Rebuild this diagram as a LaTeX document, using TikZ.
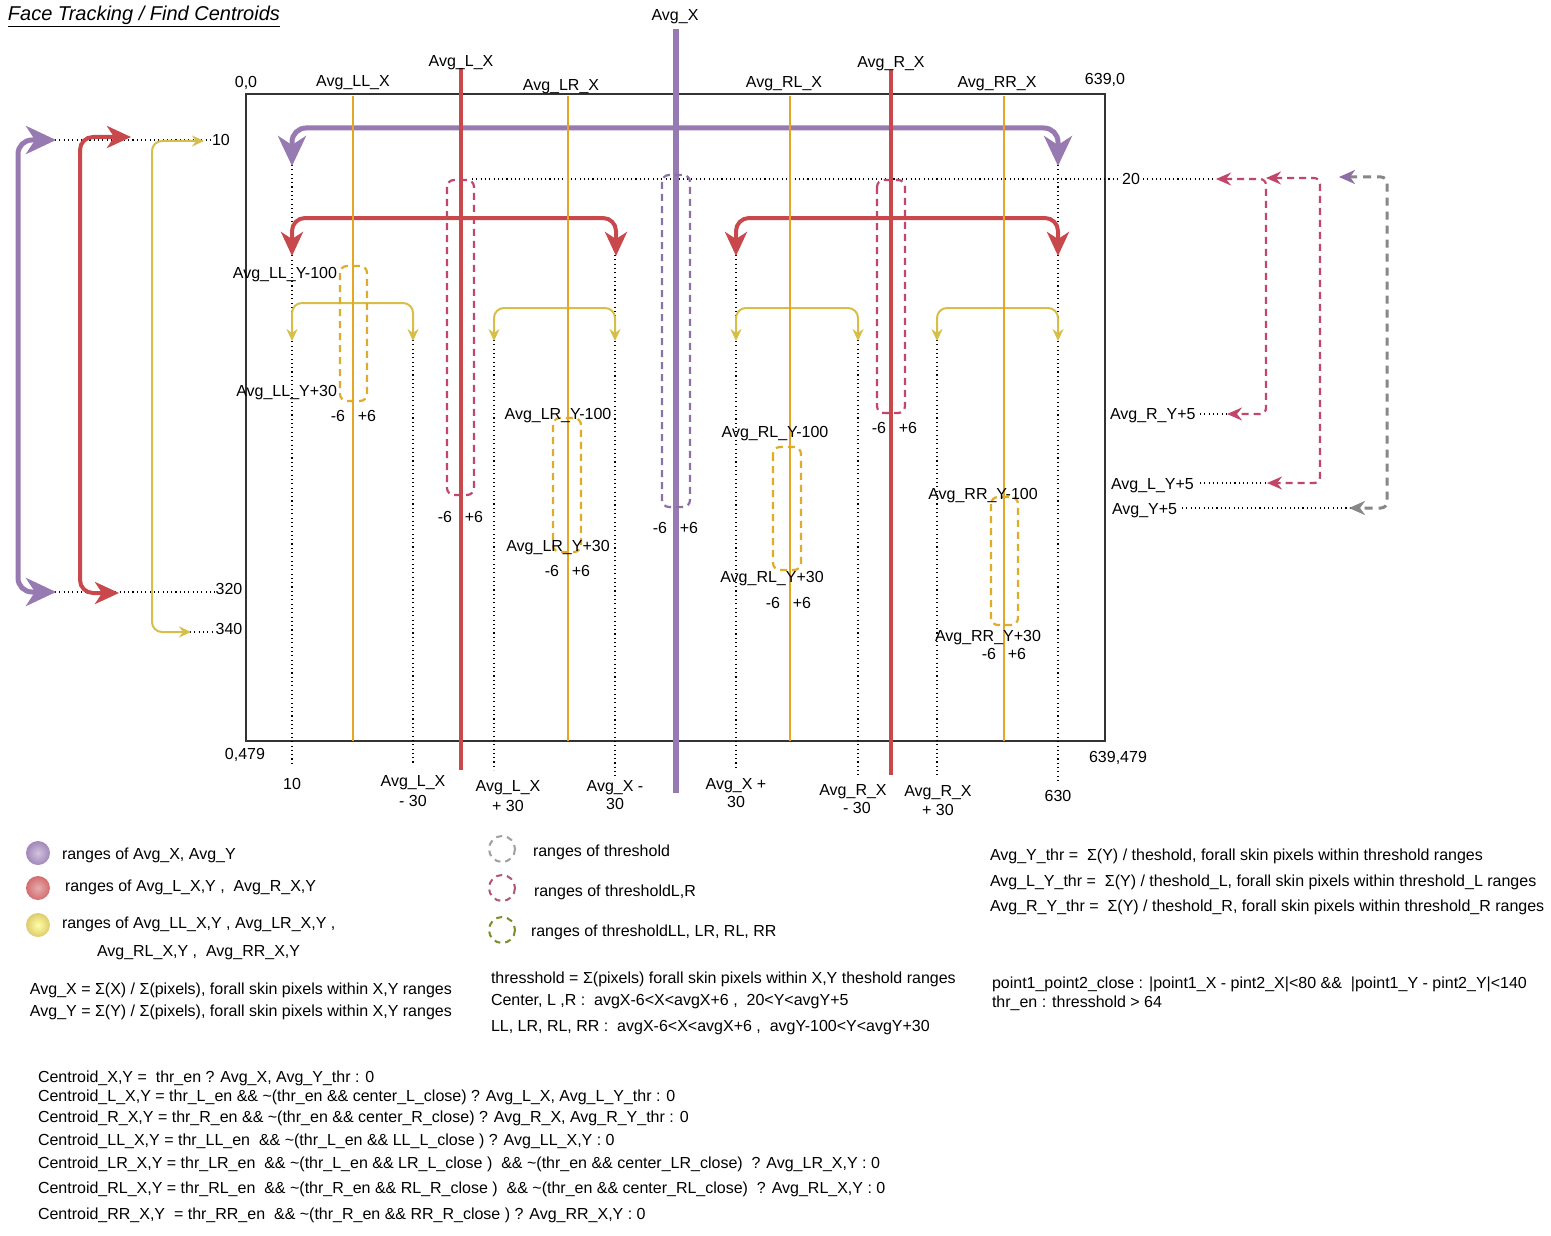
\documentclass[tikz,border=0pt]{standalone}
\usepackage{fontspec}
\setmainfont{Liberation Sans}
\usetikzlibrary{arrows.meta}
\definecolor{cpur}{RGB}{152,122,178}
\definecolor{cred}{RGB}{200,72,76}
\definecolor{cyel}{RGB}{228,166,38}
\definecolor{cyarr}{RGB}{214,190,72}
\definecolor{cdred}{RGB}{194,70,105}
\definecolor{cdpur}{RGB}{140,112,165}
\definecolor{cdyel}{RGB}{222,172,40}
\definecolor{cgray}{RGB}{135,135,135}
\begin{document}
\begin{tikzpicture}[x=1pt,y=-1pt,
  font=\fontsize{16}{19}\selectfont,
  every node/.style={inner sep=0pt,outer sep=0pt},
  tl/.style={anchor=base west},
  tc/.style={anchor=base},
  tr/.style={anchor=base east},
  dotln/.style={black,line width=1.1pt,dash pattern=on 1.1pt off 3.2pt},
  purbr/.style={cpur,line width=5pt,rounded corners=14pt,
    {Stealth[length=30pt,width=28pt,inset=9pt]}-{Stealth[length=30pt,width=28pt,inset=9pt]}},
  redbr/.style={cred,line width=4pt,rounded corners=13pt,
    {Stealth[length=24pt,width=22pt,inset=7pt]}-{Stealth[length=24pt,width=22pt,inset=7pt]}},
  yelbr/.style={cyarr,line width=2pt,rounded corners=10pt,
    {Stealth[length=12pt,width=11pt,inset=4pt]}-{Stealth[length=12pt,width=11pt,inset=4pt]}},
  rdash/.style={cdred,line width=2.2pt,dash pattern=on 7pt off 5pt,rounded corners=6pt,
    {Stealth[length=15pt,width=13pt,inset=5pt]}-{Stealth[length=15pt,width=13pt,inset=5pt]}},
  boxd/.style={line width=2.2pt,dash pattern=on 7pt off 5pt,rounded corners=7pt},
]
\useasboundingbox (0,0) rectangle (1551,1236);
\fill[white] (0,0) rectangle (1551,1236);

% title
\node[tl,font=\fontsize{20}{24}\selectfont\itshape] (title) at (8,21) {\underline{Face Tracking / Find Centroids}};

% frame
\draw[line width=1.3pt,black!80] (246,94) rectangle (1105,741);

% dotted lines
\draw[dotln] (292,165) -- (292,765);
\draw[dotln] (413,340) -- (413,765);
\draw[dotln] (494,340) -- (494,770);
\draw[dotln] (615,255) -- (615,778);
\draw[dotln] (736,255) -- (736,770);
\draw[dotln] (858,340) -- (858,775);
\draw[dotln] (937,340) -- (937,778);
\draw[dotln] (1058,165) -- (1058,780);
\draw[dotln] (55,140) -- (210,140);
\draw[dotln] (55,592) -- (215,592);
\draw[dotln] (190,632) -- (215,632);
\draw[dotln] (472,179) -- (1119,179);
\draw[dotln] (1143,179) -- (1215,179);
\draw[dotln] (1200,414) -- (1228,414);
\draw[dotln] (1200,483) -- (1268,483);
\draw[dotln] (1182,508) -- (1350,508);

% left arrows
\draw[purbr] (56,140) -- (18,140) -- (18,592) -- (56,592);
\draw[redbr] (131,137) -- (80,137) -- (80,593) -- (119,593);
\draw[yelbr] (204,141) -- (152,141) -- (152,632) -- (191,632);

% brackets
\draw[purbr] (292,166) -- (292,128) -- (1058,128) -- (1058,166);
\draw[redbr] (292,256) -- (292,218) -- (616,218) -- (616,256);
\draw[redbr] (736,256) -- (736,218) -- (1058,218) -- (1058,256);
\draw[yelbr] (292,341) -- (292,303) -- (413,303) -- (413,341);
\draw[yelbr] (494,341) -- (494,308) -- (615,308) -- (615,341);
\draw[yelbr] (736,341) -- (736,308) -- (858,308) -- (858,341);
\draw[yelbr] (937,341) -- (937,308) -- (1058,308) -- (1058,341);

% right dashed arrows
\draw[rdash] (1216,179) -- (1266,179) -- (1266,414) -- (1227,414);
\draw[rdash] (1266,178) -- (1320,178) -- (1320,483) -- (1267,483);
\draw[cgray,line width=3pt,dash pattern=on 8pt off 6pt,rounded corners=6pt,
  {Stealth[length=16pt,width=14pt,inset=5pt,color=cdpur]}-{Stealth[length=16pt,width=14pt,inset=5pt]}]
  (1339,177) -- (1387,177) -- (1387,508) -- (1349,508);

% vertical lines
\draw[cyel,line width=2.6pt] (353,96) -- (353,741);
\draw[cyel,line width=2.6pt] (568,96) -- (568,741);
\draw[cyel,line width=2.6pt] (790,96) -- (790,741);
\draw[cyel,line width=2.6pt] (1004,96) -- (1004,741);
\draw[cred,line width=4pt] (461,68) -- (461,770);
\draw[cred,line width=4pt] (891,70) -- (891,775);
\draw[cpur,line width=5.5pt] (676,29) -- (676,793);

% threshold boxes
\draw[boxd,cdred] (447,180) rectangle (474,495);
\draw[boxd,cdpur] (662,175) rectangle (690,507);
\draw[boxd,cdred] (877,180) rectangle (905,413);
\draw[boxd,cdyel] (340,266) rectangle (367,401);
\draw[boxd,cdyel] (553,418) rectangle (581,552);
\draw[boxd,cdyel] (773,447) rectangle (801,570);
\draw[boxd,cdyel] (991,497) rectangle (1018,625);

% top labels
\node[tc] (lx) at (675,21) {Avg\_X};
\node[tc] (llx) at (461,67) {Avg\_L\_X};
\node[tc] (lrx) at (891,68) {Avg\_R\_X};
\node[tc] (lllx) at (353,87) {Avg\_LL\_X};
\node[tc] (llrx) at (561,91) {Avg\_LR\_X};
\node[tc] (lrlx) at (784,88) {Avg\_RL\_X};
\node[tc] (lrrx) at (997,88) {Avg\_RR\_X};
\node[tc] (c00) at (246,88) {0,0};
\node[tc] (c6390) at (1105,85) {639,0};
\node[tc] (c0479) at (245,759) {0,479};
\node[tc] (c639479) at (1118,762) {639,479};
\node[tc] (y10) at (221,146) {10};
\node[tc] (y20) at (1131,185) {20};
\node[tc] (y320) at (229,594) {320};
\node[tc] (y340) at (229,634) {340};

% inner labels
\node[tr] (llym) at (337,278) {Avg\_LL\_Y-100};
\node[tr] (llyp) at (337,396) {Avg\_LL\_Y+30};
\node[tc] (llm6) at (338,421) {-6};
\node[tc] (llp6) at (367,421) {+6};
\node[tc] (lm6) at (445,522) {-6};
\node[tc] (lp6) at (474,522) {+6};
\node[tc] (lrym) at (558,419) {Avg\_LR\_Y-100};
\node[tc] (lryp) at (558,551) {Avg\_LR\_Y+30};
\node[tc] (lrm6) at (552,576) {-6};
\node[tc] (lrp6) at (581,576) {+6};
\node[tc] (pm6) at (660,533) {-6};
\node[tc] (pp6) at (689,533) {+6};
\node[tc] (rlym) at (775,437) {Avg\_RL\_Y-100};
\node[tc] (rlyp) at (772,582) {Avg\_RL\_Y+30};
\node[tc] (rlm6) at (773,608) {-6};
\node[tc] (rlp6) at (802,608) {+6};
\node[tc] (rm6) at (879,433) {-6};
\node[tc] (rp6) at (908,433) {+6};
\node[tc] (rrym) at (983,499) {Avg\_RR\_Y-100};
\node[tc] (rryp) at (988,641) {Avg\_RR\_Y+30};
\node[tc] (rrm6) at (989,659) {-6};
\node[tc] (rrp6) at (1017,659) {+6};
\node[tl] (ryp5) at (1110,419) {Avg\_R\_Y+5};
\node[tl] (lyp5) at (1111,489) {Avg\_L\_Y+5};
\node[tl] (yp5) at (1112,514) {Avg\_Y+5};

% bottom labels
\node[tc] (b10) at (292,789) {10};
\node[tc] (b1a) at (413,786) {Avg\_L\_X};
\node[tc] (b1b) at (413,806) {- 30};
\node[tc] (b2a) at (508,791) {Avg\_L\_X};
\node[tc] (b2b) at (508,811) {+ 30};
\node[tc] (b3a) at (615,791) {Avg\_X -};
\node[tc] (b3b) at (615,809) {30};
\node[tc] (b4a) at (736,789) {Avg\_X +};
\node[tc] (b4b) at (736,807) {30};
\node[tc] (b5a) at (853,795) {Avg\_R\_X};
\node[tc] (b5b) at (857,813) {- 30};
\node[tc] (b6a) at (938,796) {Avg\_R\_X};
\node[tc] (b6b) at (938,815) {+ 30};
\node[tc] (b630) at (1058,801) {630};

% legend circles
\shade[inner color=cpur!45,outer color=cpur!90] (38,853) circle (12);
\shade[inner color=cred!45,outer color=cred!80] (38,888) circle (12);
\shade[inner color=yellow!35,outer color=cyarr!80] (38,925) circle (12);
\draw[cgray!80,line width=2pt,dash pattern=on 6pt off 5pt] (502,849) circle (13);
\draw[cdred!70!gray,line width=2pt,dash pattern=on 6pt off 5pt] (502,888) circle (13);
\draw[cyarr!80!green!70!black,line width=2pt,dash pattern=on 6pt off 5pt] (502,930) circle (13);

% legend texts
\node[tl] (lg1) at (62,859) {ranges of Avg\_X, Avg\_Y};
\node[tl] (lg2) at (65,891) {ranges of Avg\_L\_X,Y ,~ Avg\_R\_X,Y};
\node[tl] (lg3) at (62,928) {ranges of Avg\_LL\_X,Y , Avg\_LR\_X,Y ,};
\node[tl] (lg4) at (97,956) {Avg\_RL\_X,Y ,~ Avg\_RR\_X,Y};
\node[tl] (eq1) at (30,994) {Avg\_X = Σ(X) / Σ(pixels), forall skin pixels within X,Y ranges};
\node[tl] (eq2) at (30,1016) {Avg\_Y = Σ(Y) / Σ(pixels), forall skin pixels within X,Y ranges};
\node[tl] (lt1) at (533,856) {ranges of threshold};
\node[tl] (lt2) at (534,896) {ranges of thresholdL,R};
\node[tl] (lt3) at (531,936) {ranges of thresholdLL, LR, RL, RR};
\node[tl] (th1) at (491,983) {thresshold = Σ(pixels) forall skin pixels within X,Y theshold ranges};
\node[tl] (th2) at (491,1005) {Center, L ,R :~ avgX-6<X<avgX+6 ,~ 20<Y<avgY+5};
\node[tl] (th3) at (491,1031) {LL, LR, RL, RR :~ avgX-6<X<avgX+6 ,~ avgY-100<Y<avgY+30};
\node[tl] (ty1) at (990,860) {Avg\_Y\_thr =~ Σ(Y) / theshold, forall skin pixels within threshold ranges};
\node[tl] (ty2) at (990,886) {Avg\_L\_Y\_thr =~ Σ(Y) / theshold\_L, forall skin pixels within threshold\_L ranges};
\node[tl] (ty3) at (990,911) {Avg\_R\_Y\_thr =~ Σ(Y) / theshold\_R, forall skin pixels within threshold\_R ranges};
\node[tl] (pc1) at (992,988) {point1\_point2\_close : |point1\_X - pint2\_X|<80 \&\&~ |point1\_Y - pint2\_Y|<140};
\node[tl] (pc2) at (992,1007) {thr\_en : thresshold > 64};

% centroid formulas
\node[tl] (f1) at (38,1082) {Centroid\_X,Y =~ thr\_en ? Avg\_X, Avg\_Y\_thr : 0};
\node[tl] (f2) at (38,1101) {Centroid\_L\_X,Y = thr\_L\_en \&\& \textasciitilde(thr\_en \&\& center\_L\_close) ? Avg\_L\_X, Avg\_L\_Y\_thr : 0};
\node[tl] (f3) at (38,1122) {Centroid\_R\_X,Y = thr\_R\_en \&\& \textasciitilde(thr\_en \&\& center\_R\_close) ? Avg\_R\_X, Avg\_R\_Y\_thr : 0};
\node[tl] (f4) at (38,1145) {Centroid\_LL\_X,Y = thr\_LL\_en~ \&\& \textasciitilde(thr\_L\_en \&\& LL\_L\_close ) ? Avg\_LL\_X,Y : 0};
\node[tl] (f5) at (38,1168) {Centroid\_LR\_X,Y = thr\_LR\_en~ \&\& \textasciitilde(thr\_L\_en \&\& LR\_L\_close )~ \&\& \textasciitilde(thr\_en \&\& center\_LR\_close)~ ? Avg\_LR\_X,Y : 0};
\node[tl] (f6) at (38,1193) {Centroid\_RL\_X,Y = thr\_RL\_en~ \&\& \textasciitilde(thr\_R\_en \&\& RL\_R\_close )~ \&\& \textasciitilde(thr\_en \&\& center\_RL\_close)~ ? Avg\_RL\_X,Y : 0};
\node[tl] (f7) at (38,1219) {Centroid\_RR\_X,Y~ = thr\_RR\_en~ \&\& \textasciitilde(thr\_R\_en \&\& RR\_R\_close ) ? Avg\_RR\_X,Y : 0};
\end{tikzpicture}
\end{document}
